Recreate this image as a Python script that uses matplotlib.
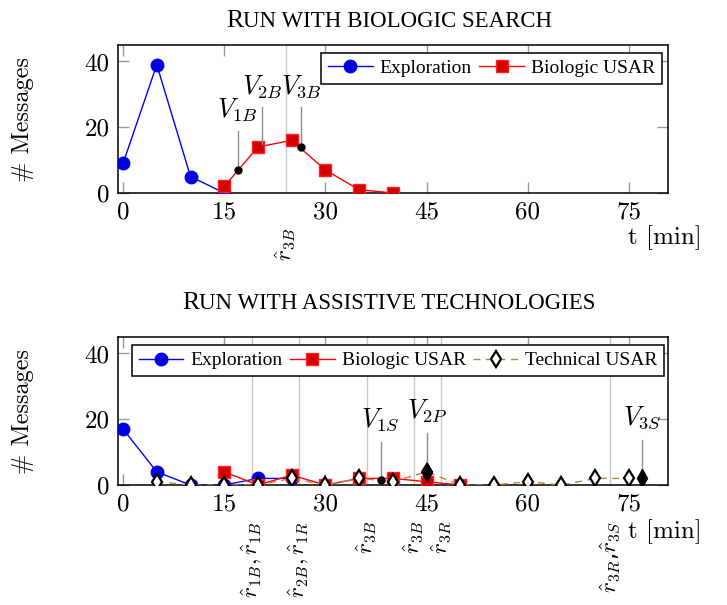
import numpy as np
import matplotlib
matplotlib.use('Agg')
import matplotlib.pyplot as plt
import matplotlib.transforms as mtrans

plt.rcParams['mathtext.fontset'] = 'cm'
plt.rcParams['axes.unicode_minus'] = False

# ---- data -------------------------------------------------------------
top_expl_t = [0, 5, 10, 15]
top_expl_n = [9, 39, 5, 0]
top_bio_t = [15, 20, 25, 30, 35, 40]
top_bio_n = [2, 14, 16, 7, 1, 0]

bot_expl_t = [0, 5, 10, 15, 20, 25]
bot_expl_n = [17, 4, 0, 0, 2, 2]
bot_bio_t = [15, 20, 25, 30, 35, 40, 45, 50]
bot_bio_n = [4, 0, 3, 0, 2, 2, 1, 0]
bot_tech_t = [5, 10, 15, 20, 25, 30, 35, 40, 45, 50, 55, 60, 65, 70, 75]
bot_tech_n = [1, 0, 0, 0, 2, 0, 2, 1, 4, 0, 0, 1, 0, 2, 2]

# events: (label, x, y of point, y of line top, y of label, marker)
top_events = [('$V_{1B}$', 17.0, 7, 19.0, 25.3, 'dot'),
              ('$V_{2B}$', 20.6, 15, 26.0, 32.3, None),
              ('$V_{3B}$', 26.4, 14, 26.0, 32.3, 'dot')]
bot_events = [('$V_{1S}$', 38.2, 1.5, 13.2, 19.8, 'dot'),
              ('$V_{2P}$', 45.1, 4, 15.8, 22.3, 'diam'),
              ('$V_{3S}$', 77.0, 2, 13.7, 20.4, 'diam')]

top_rlines = [24.2]
top_rlabels = [r'$\hat{r}_{3B}$']
bot_rlines = [19.1, 26.1, 36.2, 43.1, 47.2, 72.2]
bot_rlabels = [r'$\hat{r}_{1B},\hat{r}_{1B}$', r'$\hat{r}_{2B},\hat{r}_{1R}$',
               r'$\hat{r}_{3B}$', r'$\hat{r}_{3B}$', r'$\hat{r}_{3R}$',
               r'$\hat{r}_{3R}$,$\hat{r}_{3S}$']

xticks = [0, 15, 30, 45, 60, 75]
yticks = [0, 20, 40]

BLUE = '#0000ff'
RED = '#ff0000'
BROWN = '#bf8040'
CM = 'cmr10'
TIMES = 'Liberation Serif'

fig = plt.figure(figsize=(7.27, 6.05), dpi=100)
ax1 = fig.add_axes([118/727, 1-193/605, 550/727, 148/605])
ax2 = fig.add_axes([118/727, 1-485/605, 550/727, 148/605])


def style_axes(ax):
	ax.set_xlim(-0.75, 80.8)
	ax.set_ylim(0, 45)
	ax.set_xticks(xticks)
	ax.set_xticklabels([str(v) for v in xticks], fontfamily=CM, fontsize=18)
	ax.set_yticks(yticks)
	ax.set_yticklabels([str(v) for v in yticks], fontfamily=CM, fontsize=18)
	ax.tick_params(direction='in', top=True, right=True, length=8, width=1,
				   color='#999999', pad=6)
	for sp in ax.spines.values():
		sp.set_linewidth(1.1)


def draw_events(ax, events):
	for lbl, x, y, ytop, ylab, mk in events:
		ax.plot([x, x], [y, ytop], color='#8c8c8c', lw=1, zorder=4)
		if mk == 'dot':
			ax.plot(x, y, 'o', color='black', ms=5, zorder=6)
		elif mk == 'diam':
			ax.plot(x, y, 'd', color='black', ms=9, zorder=6)
		ax.text(x, ylab, lbl, fontsize=19, ha='center', va='center', zorder=6)


def draw_rlines(ax, xs, labels, ylab):
	tr = mtrans.blended_transform_factory(ax.transData, ax.transAxes)
	for x, lbl in zip(xs, labels):
		ax.axvline(x, color='#c8c8c8', lw=1, zorder=1)
		ax.text(x, ylab, lbl, transform=tr, rotation=90, ha='center', va='top',
				fontsize=16.5, clip_on=False)


expl_kw = dict(color=BLUE, lw=1, marker='o', ms=9, mfc='#0000dd', mec='#0000ff', zorder=3)
bio_kw = dict(color=RED, lw=1, marker='s', ms=9, mfc='#d40000', mec='#ff2020', zorder=3)
tech_kw = dict(color=BROWN, lw=1, ls=(0, (5, 4)), marker='d', ms=8, mfc='white',
			   mec='black', mew=1.6, zorder=5)

leg_kw = dict(ncol=3, prop={'family': TIMES, 'size': 14}, frameon=True, fancybox=False,
			  edgecolor='black', framealpha=1, handlelength=2.3, handletextpad=0.35,
			  columnspacing=0.4, borderpad=0.35, borderaxespad=0)

# ---- top panel ----
style_axes(ax1)
draw_rlines(ax1, top_rlines, top_rlabels, -0.235)
ax1.plot(top_expl_t, top_expl_n, label='Exploration', **expl_kw)
ax1.plot(top_bio_t, top_bio_n, label='Biologic USAR', **bio_kw)
draw_events(ax1, top_events)
leg1 = ax1.legend(loc='upper right', bbox_to_anchor=(0.989, 0.948), **leg_kw)
leg1.get_frame().set_linewidth(1.1)
leg1.set_zorder(10)

# ---- bottom panel ----
style_axes(ax2)
draw_rlines(ax2, bot_rlines, bot_rlabels, -0.243)
ax2.plot(bot_expl_t, bot_expl_n, label='Exploration', **expl_kw)
ax2.plot(bot_bio_t, bot_bio_n, label='Biologic USAR', **bio_kw)
ax2.plot(bot_tech_t, bot_tech_n, label='Technical USAR', **tech_kw)
draw_events(ax2, bot_events)
leg2 = ax2.legend(loc='upper left', bbox_to_anchor=(0.025, 0.946), **leg_kw)
leg2.get_frame().set_linewidth(1.1)
leg2.set_zorder(10)

# ---- axis labels ----
for ycen in (119, 411):
	fig.text(23/727, 1-ycen/605, '# Messages', rotation=90, ha='center', va='center',
			 fontfamily=CM, fontsize=17.5)
for ycen in (238, 532):
	fig.text(665/727, 1-ycen/605, 't [min]', ha='center', va='center',
			 fontfamily=CM, fontsize=18)

# ---- small-caps titles ----
def sc_title(x_left, y_base, first, rest):
	t = fig.text(x_left/727, 1-y_base/605, first, fontfamily=TIMES, fontsize=18.5,
				 ha='left', va='baseline')
	fig.canvas.draw()
	bb = t.get_window_extent()
	fig.text(bb.x1/fig.bbox.width, 1-y_base/605, rest, fontfamily=TIMES, fontsize=16.5,
			 ha='left', va='baseline')

sc_title(226, 27, 'R', 'UN WITH BIOLOGIC SEARCH')
sc_title(182, 309, 'R', 'UN WITH ASSISTIVE TECHNOLOGIES')

fig.savefig('out.png', dpi=100)
